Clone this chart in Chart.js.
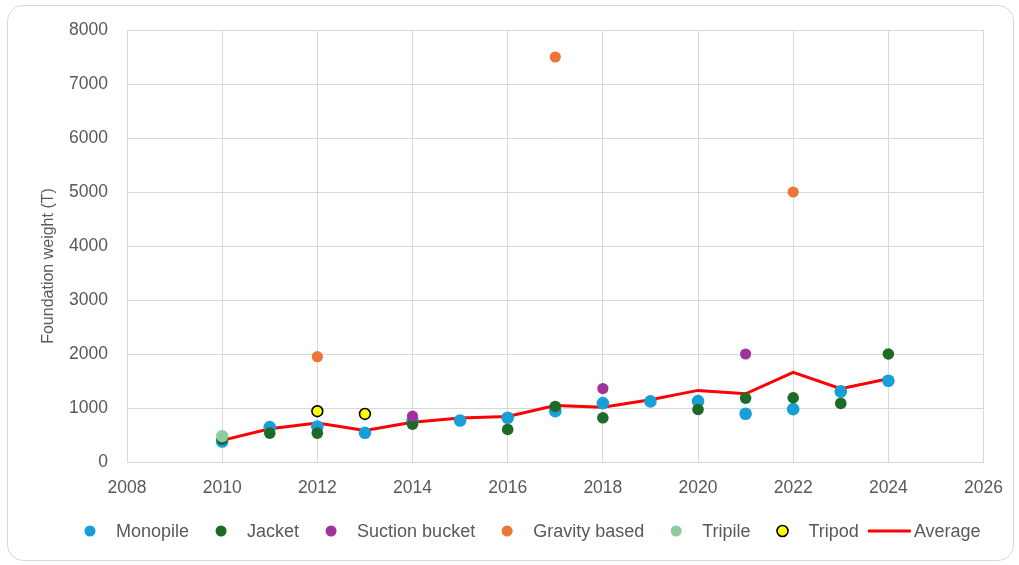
<!DOCTYPE html>
<html>
<head>
<meta charset="utf-8">
<title>Foundation weight by year</title>
<script src="https://cdn.jsdelivr.net/npm/chart.js@4/dist/chart.umd.min.js"></script>
<style>
  html, body { margin: 0; padding: 0; background: #ffffff; }
  #wrap { position: relative; width: 1019px; height: 565px; }
  #frame {
    position: absolute; left: 7px; top: 5px; width: 1007px; height: 556px;
    border: 1px solid #d9d9d9; border-radius: 16px; box-sizing: border-box;
    pointer-events: none;
  }
  canvas { position: absolute; left: 0; top: 0; }
</style>
</head>
<body>
<div id="wrap">
  <canvas id="chart" width="1019" height="565"></canvas>
  <div id="frame"></div>
</div>
<script>
// Foundation weights (tonnes) per installation year, one array per foundation type
const monopileYears = [2010, 2011, 2012, 2013, 2014, 2015, 2016, 2017, 2018, 2019, 2020, 2021, 2022, 2023, 2024];
const monopileWeights = [380, 645, 658, 541, 770, 769, 819, 942, 1090, 1122, 1127, 894, 979, 1307, 1505];

const jacketYears = [2010, 2011, 2012, 2014, 2016, 2017, 2018, 2020, 2021, 2022, 2023, 2024];
const jacketWeights = [420, 534, 534, 700, 603, 1029, 819, 973, 1183, 1190, 1085, 2000];

const suctionYears = [2014, 2018, 2021];
const suctionWeights = [850, 1360, 2000];

const gravityYears = [2012, 2017, 2022];
const gravityWeights = [1950, 7500, 5000];

const tripileYears = [2010];
const tripileWeights = [480];

const tripodYears = [2012, 2013];
const tripodWeights = [940, 890];

const averageYears = [2010, 2011, 2012, 2013, 2014, 2015, 2016, 2017, 2018, 2019, 2020, 2021, 2022, 2023, 2024];
const averageWeights = [400, 615, 720, 584, 738, 815, 844, 1047, 1016, 1153, 1326, 1264, 1659, 1357, 1542];

const seriesNames = ['Monopile', 'Jacket', 'Suction bucket', 'Gravity based', 'Tripile', 'Tripod', 'Average'];
const yAxisTitle = 'Foundation weight (T)';

const xTicks = [2008, 2010, 2012, 2014, 2016, 2018, 2020, 2022, 2024, 2026];
const yTicks = [0, 1000, 2000, 3000, 4000, 5000, 6000, 7000, 8000];

const pairs = (xs, ys) => xs.map((x, i) => ({ x: x, y: ys[i] }));

const textGrey = '#595959';
const gridGrey = '#d9d9d9';
const fontFamily = '"Liberation Sans", Arial, sans-serif';

function pointSeries(label, xs, ys, color, radius, order, border) {
  return {
    type: 'scatter',
    label: label,
    data: pairs(xs, ys),
    backgroundColor: color,
    borderColor: border ? border : color,
    pointBorderWidth: border ? 1.6 : 0,
    pointRadius: radius,
    pointHoverRadius: radius,
    order: order
  };
}

const datasets = [
  pointSeries(seriesNames[0], monopileYears, monopileWeights, '#189fd8', 6.3, 6),
  pointSeries(seriesNames[1], jacketYears, jacketWeights, '#1c6b27', 5.8, 5),
  pointSeries(seriesNames[2], suctionYears, suctionWeights, '#a0329d', 5.6, 4),
  pointSeries(seriesNames[3], gravityYears, gravityWeights, '#ee7535', 5.6, 3),
  pointSeries(seriesNames[4], tripileYears, tripileWeights, '#8ecb9d', 6.2, 2),
  pointSeries(seriesNames[5], tripodYears, tripodWeights, '#ffff00', 5.4, 1, '#000000'),
  {
    type: 'line',
    label: seriesNames[6],
    data: pairs(averageYears, averageWeights),
    borderColor: '#ff0000',
    backgroundColor: '#ff0000',
    borderWidth: 3,
    pointRadius: 0,
    tension: 0,
    fill: false,
    order: 7
  }
];

// Rotated y-axis title, placed a little below the middle of the plot
const yTitle = {
  id: 'yTitle',
  afterDraw(chart) {
    const ctx = chart.ctx;
    ctx.save();
    ctx.translate(49, 266);
    ctx.rotate(-Math.PI / 2);
    ctx.font = '16px ' + fontFamily;
    ctx.fillStyle = textGrey;
    ctx.textAlign = 'center';
    ctx.textBaseline = 'middle';
    ctx.fillText(yAxisTitle, 0, 0);
    ctx.restore();
  }
};

// Legend row drawn along the bottom of the canvas
const bottomLegend = {
  id: 'bottomLegend',
  afterDraw(chart) {
    const ctx = chart.ctx;
    const y = 531;
    let x = 84;
    ctx.save();
    ctx.font = '18px ' + fontFamily;
    ctx.textBaseline = 'middle';
    ctx.textAlign = 'left';
    chart.data.datasets.forEach((ds, i) => {
      const w = ctx.measureText(ds.label).width;
      if (ds.type === 'line') {
        ctx.strokeStyle = ds.borderColor;
        ctx.lineWidth = 3;
        ctx.beginPath();
        ctx.moveTo(x, y);
        ctx.lineTo(x + 43, y);
        ctx.stroke();
        ctx.fillStyle = textGrey;
        ctx.fillText(ds.label, x + 46, y + 1);
        x += 46 + w + 26;
      } else {
        ctx.beginPath();
        ctx.arc(x + 6, y, 5.5, 0, Math.PI * 2);
        ctx.fillStyle = ds.backgroundColor;
        ctx.fill();
        if (ds.pointBorderWidth > 0) {
          ctx.lineWidth = 1.6;
          ctx.strokeStyle = ds.borderColor;
          ctx.stroke();
        }
        ctx.fillStyle = textGrey;
        ctx.fillText(ds.label, x + 32, y + 1);
        x += 32 + w + (i === 5 ? 9 : 26);
      }
    });
    ctx.restore();
  }
};

new Chart(document.getElementById('chart'), {
  type: 'scatter',
  data: { datasets: datasets },
  plugins: [yTitle, bottomLegend],
  options: {
    responsive: false,
    devicePixelRatio: 1,
    animation: false,
    layout: { padding: { left: 38, right: 32, top: 30, bottom: 0 } },
    plugins: {
      legend: { display: false },
      tooltip: { enabled: false }
    },
    scales: {
      x: {
        type: 'linear',
        min: xTicks[0],
        max: xTicks[xTicks.length - 1],
        afterBuildTicks(scale) { scale.ticks = xTicks.map(v => ({ value: v })); },
        afterFit(scale) { scale.height = 103; },
        grid: { color: gridGrey, lineWidth: 1, drawTicks: false },
        border: { color: gridGrey, width: 1 },
        ticks: {
          color: textGrey,
          padding: 16,
          font: { family: fontFamily, size: 17.5 },
          callback: v => String(v)
        }
      },
      y: {
        type: 'linear',
        min: yTicks[0],
        max: yTicks[yTicks.length - 1],
        afterBuildTicks(scale) { scale.ticks = yTicks.map(v => ({ value: v })); },
        afterFit(scale) { scale.width = 89; },
        grid: { color: gridGrey, lineWidth: 1, drawTicks: false },
        border: { color: gridGrey, width: 1 },
        ticks: {
          color: textGrey,
          padding: 19,
          font: { family: fontFamily, size: 17.5 },
          callback: v => String(v)
        }
      }
    }
  }
});
</script>
</body>
</html>
